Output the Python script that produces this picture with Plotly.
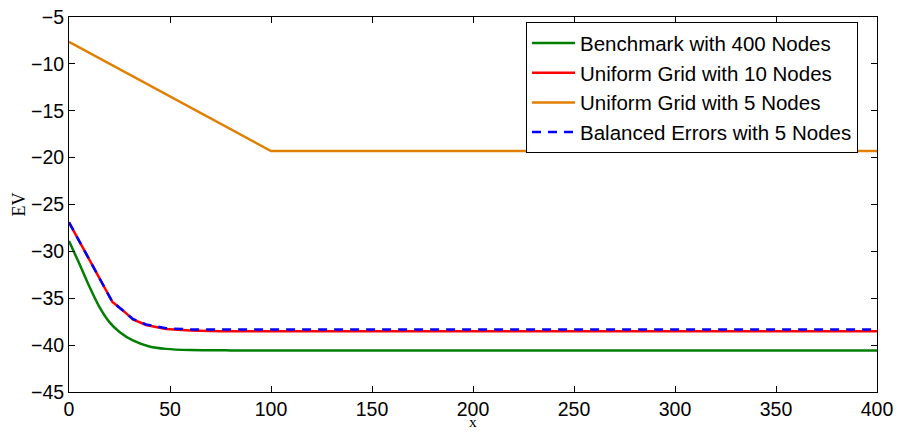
import plotly.graph_objects as go

# ---- data ----
bench_x = [0, 5.2, 10.2, 15.1, 20, 25, 31.6, 39.8, 48, 60, 80, 150, 250, 400]
bench_y = [-28.9, -31.35, -33.8, -35.95, -37.55, -38.6, -39.5, -40.14, -40.4, -40.53, -40.56, -40.56, -40.56, -40.56]

u10_x = [0, 21.5, 26.7, 31.6, 38.2, 48, 60, 75, 200, 400]
u10_y = [-26.9, -35.4, -36.3, -37.25, -37.85, -38.27, -38.45, -38.52, -38.52, -38.52]

u5_x = [0, 100, 200, 300, 400]
u5_y = [-7.65, -19.3, -19.3, -19.3, -19.3]

bal_x = [0, 21.5, 26.7, 31.6, 38.2, 48, 60, 200, 400]
bal_y = [-26.9, -35.4, -36.3, -37.2, -37.8, -38.2, -38.33, -38.33, -38.33]

names = ["Benchmark with 400 Nodes", "Uniform Grid with 10 Nodes",
         "Uniform Grid with 5 Nodes", "Balanced Errors with 5 Nodes"]
colors = ["#007f00", "#ff0000", "#e07f00", "#0000ff"]

x_ticks = [0, 50, 100, 150, 200, 250, 300, 350, 400]
y_ticks = [-45, -40, -35, -30, -25, -20, -15, -10, -5]

x_title = "x"
y_title = "EV"

fig = go.Figure()
series = [(bench_x, bench_y, "solid", "spline"), (u10_x, u10_y, "solid", "linear"),
          (u5_x, u5_y, "solid", "linear"), (bal_x, bal_y, "9px,7px", "linear")]
for i, (xs, ys, dash, shape) in enumerate(series):
    fig.add_trace(go.Scatter(x=xs, y=ys, mode="lines", name=names[i],
                             line=dict(color=colors[i], width=2.5, dash=dash,
                                       shape=shape, smoothing=0.6)))

axis_common = dict(showgrid=False, zeroline=False, showline=True, linecolor="black",
                   linewidth=1, mirror="ticks", ticks="inside", ticklen=6,
                   tickcolor="black",
                   tickfont=dict(family="Liberation Sans", size=19.5, color="black"))

fig.update_layout(
    width=898, height=432,
    margin=dict(l=69, r=21, t=17, b=40, autoexpand=False),
    plot_bgcolor="white", paper_bgcolor="white",
    xaxis=dict(range=[0, 400], tickvals=x_ticks, automargin=False, **axis_common),
    yaxis=dict(range=[-45, -5], tickvals=y_ticks, automargin=False, **axis_common,
               title=dict(text=y_title, font=dict(family="Liberation Serif", size=18, color="black"), standoff=0)),
    legend=dict(x=0.9765, y=0.986, xanchor="right", yanchor="top",
                bgcolor="white", bordercolor="black", borderwidth=1,
                font=dict(family="Liberation Sans", size=20.5, color="black"),
                tracegroupgap=0, itemwidth=43),
    showlegend=True,
)

# x-axis title placed just below the tick labels (as in the reference)
fig.add_annotation(text=x_title, xref="paper", yref="paper", x=0.5, y=-0.106,
                   xanchor="center", yanchor="bottom", showarrow=False,
                   font=dict(family="Liberation Serif", size=15.5, color="black"))

fig.write_html("out.html")
